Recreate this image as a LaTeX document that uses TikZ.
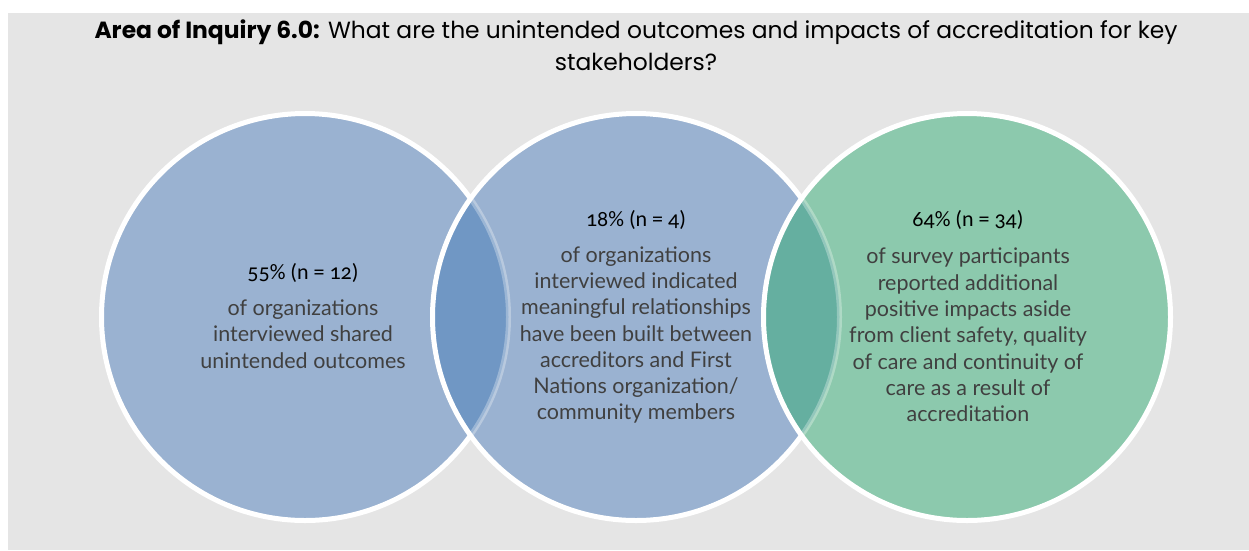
\documentclass[tikz,border=0pt]{standalone}
\usepackage{fontspec}
\setmainfont{Lato}
\newfontfamily\headfont{Poppins}
\newfontfamily\pctfont{Carlito}[Numbers=OldStyle]
\definecolor{bgGray}{RGB}{229,229,229}
\definecolor{vBlue}{RGB}{154,178,209}
\definecolor{vBlueDark}{RGB}{112,151,196}
\definecolor{vGreen}{RGB}{140,201,173}
\definecolor{vGreenDark}{RGB}{101,175,160}
\definecolor{bodyText}{RGB}{64,64,64}
\newcommand{\circR}{203.5}

\begin{document}
\begin{tikzpicture}[x=1pt,y=-1pt,
  rim/.style={draw=white,line width=5pt},
  pct/.style={font=\pctfont\fontsize{22}{24}\selectfont,text=black},
  blurb/.style={font=\fontsize{21.5}{26.3}\selectfont,text=bodyText,align=center}]
\useasboundingbox (0,0) rectangle (1249,550);
\fill[white] (0,0) rectangle (1249,550);
\fill[bgGray] (8,13) rectangle (1249,550);
\node(title) at (636,45)[font=\headfont\fontsize{23.4}{32}\selectfont,align=center]
  {\textbf{Area of Inquiry 6.0:} What are the unintended outcomes and impacts of accreditation for key\\stakeholders?};
\coordinate(c1) at (305,317);
\coordinate(c2) at (636,317);
\coordinate(c3) at (967,317);
% left circle
\fill[vBlue] (c1) circle (\circR);
\draw[rim] (c1) circle (\circR);
% middle circle over the left one
\fill[vBlue] (c2) circle (\circR);
\begin{scope}
\clip (c1) circle (\circR);
\fill[vBlueDark] (c2) circle (\circR);
\end{scope}
\begin{scope}
\clip (c2) circle (\circR);
\draw[rim,draw opacity=0.3] (c1) circle (\circR);
\end{scope}
\draw[rim] (c2) circle (\circR);
% right circle over the middle one
\fill[vGreen] (c3) circle (\circR);
\begin{scope}
\clip (c2) circle (\circR);
\fill[vGreenDark] (c3) circle (\circR);
\end{scope}
\begin{scope}
\clip (c3) circle (\circR);
\draw[rim,draw opacity=0.3] (c2) circle (\circR);
\end{scope}
\draw[rim] (c3) circle (\circR);
% texts
\node(p1) at (303,273)[pct]{55\% (n = 12)};
\node(b1) at (303,334)[blurb]{of organizations\\interviewed shared\\unintended outcomes};
\node(p2) at (636,220)[pct]{18\% (n = 4)};
\node(b2) at (636,335)[blurb]{of organizations\\interviewed indicated\\meaningful relationships\\have been built between\\accreditors and First\\Nations organization/\\community members};
\node(p3) at (968,220)[pct]{64\% (n = 34)};
\node(b3) at (968,335)[blurb]{of survey participants\\reported additional\\positive impacts aside\\from client safety, quality\\of care and continuity of\\care as a result of\\accreditation};
\end{tikzpicture}
\end{document}
